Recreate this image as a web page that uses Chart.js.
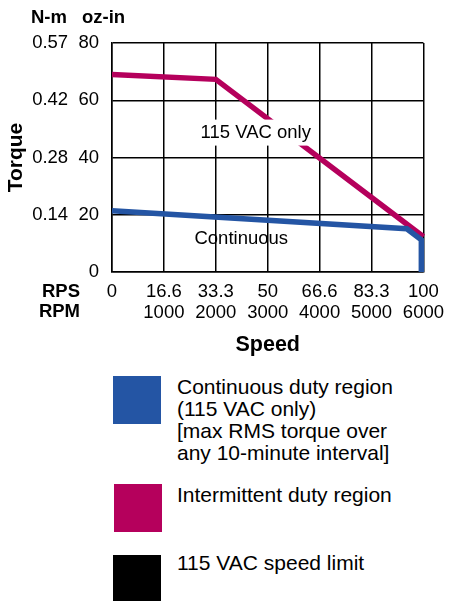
<!DOCTYPE html>
<html>
<head>
<meta charset="utf-8">
<script src="https://cdn.jsdelivr.net/npm/chart.js@4/dist/chart.umd.min.js"></script>
<style>
  body { margin: 0; background: #fff; font-family: "Liberation Sans", Arial, sans-serif; }
  #wrap { position: absolute; left: 0; top: 0; width: 454px; height: 360px; }
  .sw { position: absolute; width: 48px; height: 48px; }
  .lt { position: absolute; left: 177px; font-size: 21px; line-height: 22px; color: #000; }
</style>
</head>
<body>
<div id="wrap"><canvas id="grafico"></canvas></div>

<div class="sw" style="left:113px; top:376px; background:#2455a4;"></div>
<div class="lt" style="top:376px;">Continuous duty region<br>(115 VAC only)<br>[max RMS torque over<br>any 10-minute interval]</div>

<div class="sw" style="left:114px; top:484px; background:#b5005c;"></div>
<div class="lt" style="top:484px;">Intermittent duty region</div>

<div class="sw" style="left:113px; top:555px; background:#000;"></div>
<div class="lt" style="top:552px;">115 VAC speed limit</div>

<script>
// dados
const rpsLabels = ['0', '16.6', '33.3', '50', '66.6', '83.3', '100'];
const rpmLabels = ['', '1000', '2000', '3000', '4000', '5000', '6000'];
const ozinTicks = [0, 20, 40, 60, 80];
const nmLabels = ['', '0.14', '0.28', '0.42', '0.57'];

const contSpeed = [0, 5680, 5960, 5960];
const contTorque = [21.4, 15.1, 11.2, 0];
const interSpeed = [0, 2000, 6000];
const interTorque = [69, 67.3, 12.3];

const notas = [
    { texto: '115 VAC only', x: 2770, y: 48.7, fundo: true },
    { texto: 'Continuous', x: 2490, y: 11.6, fundo: false }
];

const fonte = '"Liberation Sans", Arial, sans-serif';

const pontos = (xs, ys) => xs.map((x, i) => ({ x: x, y: ys[i] }));

// textos extras: cabecalhos dos eixos e notas dentro do grafico
const textosExtras = {
    id: 'textosExtras',
    afterDatasetsDraw(chart) {
        const ctx = chart.ctx;
        const sx = chart.scales.x, sy = chart.scales.y;
        ctx.save();
        ctx.font = '18.5px ' + fonte;
        ctx.textBaseline = 'middle';
        ctx.textAlign = 'center';
        notas.forEach(n => {
            const px = sx.getPixelForValue(n.x);
            const py = sy.getPixelForValue(n.y);
            if (n.fundo) {
                const w = ctx.measureText(n.texto).width;
                ctx.fillStyle = '#fff';
                ctx.fillRect(px - w / 2 - 4, py - 13, w + 8, 26);
            }
            ctx.fillStyle = '#000';
            ctx.fillText(n.texto, px, py);
        });

        ctx.font = 'bold 18.5px ' + fonte;
        ctx.textAlign = 'left';
        ctx.fillText('N-m', 31, 18);
        ctx.fillText('oz-in', 82, 18);
        ctx.textAlign = 'right';
        ctx.fillText('RPS', 80, 292);
        ctx.fillText('RPM', 80, 312);
        ctx.restore();
    }
};

const ctx = document.getElementById('grafico').getContext('2d');

new Chart(ctx, {
    type: 'line',
    data: {
        datasets: [
            {
                label: 'Continuous',
                data: pontos(contSpeed, contTorque),
                borderColor: '#2455a4',
                borderWidth: 5.5,
                pointRadius: 0,
                tension: 0,
                fill: false,
                clip: false
            },
            {
                label: '115 VAC only',
                data: pontos(interSpeed, interTorque),
                borderColor: '#b5005c',
                borderWidth: 5.5,
                pointRadius: 0,
                tension: 0,
                fill: false,
                clip: false
            }
        ]
    },
    options: {
        responsive: true,
        maintainAspectRatio: false,
        animation: false,
        layout: { padding: { top: 43, right: 22, left: 0, bottom: 0 } },
        plugins: { legend: { display: false }, tooltip: { enabled: false } },
        scales: {
            x: {
                type: 'linear',
                min: 0,
                max: 6000,
                afterFit: s => { s.height = 88; },
                afterBuildTicks: s => { s.ticks = rpmLabels.map((_, i) => ({ value: i * 1000 })); },
                grid: { color: '#000', lineWidth: 1.5, drawTicks: false },
                border: { color: '#000', width: 1.5 },
                ticks: {
                    color: '#000',
                    padding: 10,
                    maxRotation: 0,
                    autoSkip: false,
                    font: { family: fonte, size: 18.5, lineHeight: 1.1 },
                    callback: (v) => {
                        const i = Math.round(v / 1000);
                        return [rpsLabels[i], rpmLabels[i]];
                    }
                },
                title: {
                    display: true,
                    text: 'Speed',
                    color: '#000',
                    padding: { top: 0, bottom: 2 },
                    font: { family: fonte, size: 21.5, weight: 'bold' }
                }
            },
            y: {
                min: 0,
                max: 80,
                afterFit: s => { s.width = 112; },
                afterBuildTicks: s => { s.ticks = ozinTicks.map(v => ({ value: v })); },
                grid: { color: '#000', lineWidth: 1.5, drawTicks: false },
                border: { color: '#000', width: 1.5 },
                ticks: {
                    color: '#000',
                    padding: 13,
                    font: { family: fonte, size: 18.5 },
                    callback: (v) => {
                        const i = ozinTicks.indexOf(v);
                        return nmLabels[i] ? nmLabels[i] + '  ' + v : String(v);
                    }
                },
                title: {
                    display: true,
                    text: 'Torque',
                    color: '#000',
                    padding: { top: 4, bottom: 0 },
                    font: { family: fonte, size: 21, weight: 'bold' }
                }
            }
        }
    },
    plugins: [textosExtras]
});
</script>
</body>
</html>
